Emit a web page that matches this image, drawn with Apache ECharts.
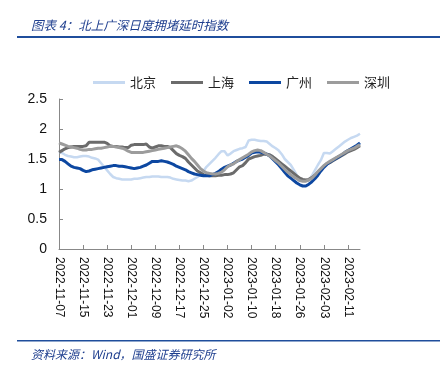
<!DOCTYPE html>
<html>
<head>
<meta charset="utf-8">
<script src="https://cdn.jsdelivr.net/npm/echarts@6/dist/echarts.min.js"></script>
<style>
  html, body {margin: 0; padding: 0; background: #fff;}
  #chart {width: 440px; height: 369px;}
</style>
</head>
<body>
<div id="chart"></div>
<script>
// daily dates 2022-11-07 .. 2023-02-15
var startDate = new Date(Date.UTC(2022, 10, 7));
var dates = [];
for (var d = 0; d < 101; d++) {
  var t = new Date(startDate.getTime() + d * 86400000);
  dates.push(t.toISOString().slice(0, 10));
}

var seriesNames = ['北京', '上海', '广州', '深圳'];

var beijing = [
  1.62, 1.60, 1.57, 1.55, 1.54, 1.53, 1.53, 1.54, 1.55, 1.55,
  1.54, 1.52, 1.51, 1.49, 1.43, 1.37, 1.31, 1.25, 1.20, 1.18,
  1.17, 1.16, 1.16, 1.16, 1.16, 1.17, 1.17, 1.18, 1.19, 1.20,
  1.20, 1.21, 1.21, 1.21, 1.20, 1.20, 1.20, 1.19, 1.17, 1.16,
  1.15, 1.14, 1.14, 1.13, 1.14, 1.17, 1.20, 1.24, 1.30, 1.37,
  1.42, 1.47, 1.52, 1.58, 1.63, 1.63, 1.56, 1.59, 1.63, 1.65,
  1.67, 1.68, 1.70, 1.81, 1.82, 1.82, 1.81, 1.80, 1.80, 1.79,
  1.75, 1.71, 1.68, 1.64, 1.58, 1.50, 1.45, 1.40, 1.32, 1.23,
  1.17, 1.14, 1.13, 1.15, 1.22, 1.31, 1.40, 1.48, 1.60, 1.60,
  1.59, 1.63, 1.67, 1.71, 1.75, 1.79, 1.82, 1.85, 1.87, 1.89,
  1.92
];

var shanghai = [
  1.61, 1.64, 1.67, 1.69, 1.70, 1.71, 1.71, 1.71, 1.71, 1.72,
  1.78, 1.78, 1.78, 1.78, 1.78, 1.78, 1.76, 1.72, 1.71, 1.71,
  1.70, 1.70, 1.69, 1.69, 1.73, 1.74, 1.74, 1.74, 1.74, 1.75,
  1.70, 1.68, 1.70, 1.72, 1.72, 1.71, 1.71, 1.69, 1.64, 1.59,
  1.56, 1.54, 1.51, 1.45, 1.40, 1.35, 1.30, 1.27, 1.24, 1.23,
  1.22, 1.22, 1.22, 1.23, 1.23, 1.24, 1.24, 1.25, 1.27, 1.32,
  1.37, 1.39, 1.44, 1.50, 1.52, 1.54, 1.55, 1.56, 1.58, 1.58,
  1.57, 1.54, 1.50, 1.46, 1.42, 1.38, 1.34, 1.30, 1.26, 1.22,
  1.18, 1.16, 1.15, 1.16, 1.19, 1.23, 1.28, 1.33, 1.38, 1.42,
  1.44, 1.47, 1.50, 1.53, 1.56, 1.59, 1.62, 1.64, 1.66, 1.69,
  1.72
];

var guangzhou = [
  1.49, 1.49, 1.46, 1.42, 1.38, 1.36, 1.35, 1.34, 1.31, 1.29,
  1.30, 1.32, 1.33, 1.34, 1.35, 1.36, 1.37, 1.38, 1.39, 1.39,
  1.38, 1.38, 1.37, 1.36, 1.35, 1.34, 1.35, 1.36, 1.38, 1.40,
  1.43, 1.46, 1.46, 1.46, 1.47, 1.46, 1.45, 1.43, 1.41, 1.38,
  1.36, 1.34, 1.32, 1.29, 1.27, 1.25, 1.24, 1.23, 1.22, 1.22,
  1.22, 1.24, 1.26, 1.29, 1.33, 1.36, 1.38, 1.40, 1.43, 1.46,
  1.48, 1.50, 1.53, 1.56, 1.60, 1.61, 1.62, 1.61, 1.60, 1.58,
  1.55, 1.50, 1.45, 1.40, 1.34, 1.28, 1.22, 1.18, 1.14, 1.10,
  1.07, 1.05, 1.05, 1.08, 1.12, 1.17, 1.23, 1.30, 1.36, 1.41,
  1.45, 1.48, 1.51, 1.54, 1.57, 1.61, 1.64, 1.67, 1.70, 1.73,
  1.77
];

var shenzhen = [
  1.77, 1.75, 1.73, 1.71, 1.70, 1.69, 1.68, 1.66, 1.65, 1.65,
  1.66, 1.66, 1.67, 1.68, 1.68, 1.69, 1.70, 1.71, 1.71, 1.70,
  1.69, 1.68, 1.66, 1.63, 1.61, 1.61, 1.61, 1.61, 1.61, 1.62,
  1.63, 1.64, 1.65, 1.66, 1.67, 1.68, 1.69, 1.70, 1.71, 1.72,
  1.70, 1.67, 1.63, 1.57, 1.51, 1.46, 1.40, 1.34, 1.30, 1.27,
  1.26, 1.25, 1.25, 1.26, 1.28, 1.32, 1.37, 1.40, 1.42, 1.46,
  1.49, 1.52, 1.55, 1.58, 1.62, 1.64, 1.65, 1.64, 1.61, 1.58,
  1.55, 1.51, 1.47, 1.43, 1.38, 1.33, 1.28, 1.24, 1.20, 1.17,
  1.14, 1.13, 1.13, 1.15, 1.18, 1.23, 1.29, 1.34, 1.39, 1.43,
  1.46, 1.49, 1.52, 1.55, 1.58, 1.61, 1.64, 1.66, 1.68, 1.71,
  1.74
];

var colors = ['#c6d9f1', '#6b6b6b', '#0c47a1', '#9c9c9c'];
var widths = [2.5, 3, 3, 3];
var allData = [beijing, shanghai, guangzhou, shenzhen];

var myChart = echarts.init(document.getElementById('chart'), null, {renderer: 'canvas'});

var series = seriesNames.map(function (name, i) {
  return {
    name: name,
    type: 'line',
    data: allData[i],
    symbol: 'none',
    smooth: false,
    lineStyle: {color: colors[i], width: widths[i]},
    itemStyle: {color: colors[i]},
  };
});

var option = {
  backgroundColor: '#fff',
  animation: false,
  title: [{
    text: '图表 4：北上广深日度拥堵延时指数',
    left: 26,
    top: 14,
    textStyle: {
      color: '#1f3f8f',
      fontSize: 12.5,
      fontStyle: 'italic',
      fontWeight: 'normal',
      fontFamily: 'Noto Sans CJK SC',
    },
  }, {
    text: '资料来源：Wind，国盛证券研究所',
    left: 26,
    top: 343,
    textStyle: {
      color: '#1f3f8f',
      fontSize: 12,
      fontStyle: 'italic',
      fontWeight: 'normal',
      fontFamily: 'Noto Sans CJK SC',
    },
  }],
  graphic: [{
    type: 'rect',
    shape: {x: 17, y: 36, width: 423, height: 2},
    style: {fill: '#1f4e9c'},
  }, {
    type: 'rect',
    shape: {x: 17, y: 340, width: 423, height: 1.5},
    style: {fill: '#1f4e9c'},
  }],
  legend: {
    data: seriesNames,
    left: 88,
    top: 71,
    icon: 'rect',
    itemWidth: 32,
    itemHeight: 3,
    itemGap: 15,
    textStyle: {
      fontSize: 13,
      color: '#222',
      fontFamily: 'Noto Sans CJK SC',
    },
  },
  grid: {
    left: 59,
    top: 99,
    right: 80,
    bottom: 120,
    containLabel: false,
  },
  xAxis: {
    type: 'category',
    data: dates,
    boundaryGap: false,
    axisLine: {lineStyle: {color: '#888', width: 1}},
    axisTick: {show: true, inside: true, length: 4, interval: 7, lineStyle: {color: '#888'}},
    axisLabel: {
      interval: 7,
      rotate: -90,
      margin: 8,
      fontSize: 12,
      color: '#111',
      fontFamily: 'Liberation Sans',
    },
    splitLine: {show: false},
  },
  yAxis: {
    type: 'value',
    min: 0,
    max: 2.5,
    interval: 0.5,
    axisLine: {show: true, lineStyle: {color: '#888', width: 1}},
    axisTick: {show: true, inside: true, length: 4, lineStyle: {color: '#888'}},
    axisLabel: {
      margin: 12,
      fontSize: 14,
      color: '#111',
      fontFamily: 'Liberation Sans',
    },
    splitLine: {show: false},
  },
  series: series,
};

myChart.setOption(option);
</script>
</body>
</html>
